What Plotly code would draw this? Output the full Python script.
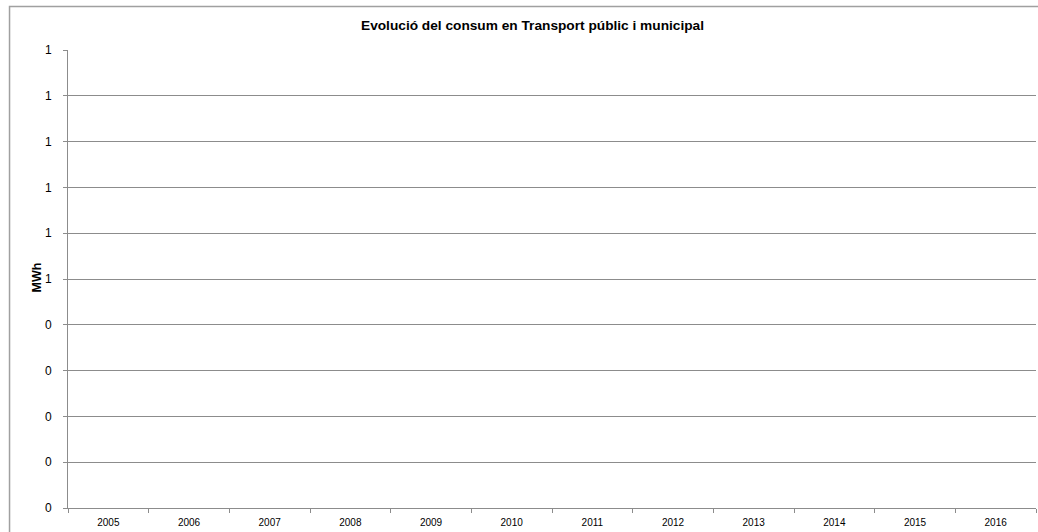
import plotly.graph_objects as go

years = ["2005", "2006", "2007", "2008", "2009", "2010",
         "2011", "2012", "2013", "2014", "2015", "2016"]
consum_mwh = [None] * 12  # no data shown in the chart
y_tick_values = [0.0, 0.1, 0.2, 0.3, 0.4, 0.5, 0.6, 0.7, 0.8, 0.9, 1.0]
y_tick_labels = ["0", "0", "0", "0", "0", "1", "1", "1", "1", "1", "1"]

title_text = "Evolució del consum en Transport públic i municipal"
y_title = "MWh"

grid_col = "#8c8c8c"
font_fam = "Liberation Sans, Arial, sans-serif"

fig = go.Figure()
fig.add_trace(go.Bar(x=years, y=consum_mwh, showlegend=False, hoverinfo="skip"))

fig.update_layout(
    width=1038, height=532,
    margin=dict(l=68, r=2, t=50, b=24),
    paper_bgcolor="white", plot_bgcolor="white",
    font=dict(family=font_fam, color="#000000"),
    showlegend=False,
)

fig.update_xaxes(
    type="category", categoryorder="array", categoryarray=years,
    range=[-0.5, 11.5],
    tickson="boundaries", ticks="outside", ticklen=4, tickcolor=grid_col,
    ticklabelstandoff=5,
    showline=True, linecolor=grid_col, linewidth=1,
    showgrid=False, zeroline=False,
    tickfont=dict(size=10, family=font_fam),
    fixedrange=True,
)
fig.update_yaxes(
    range=[0, 1],
    tickvals=y_tick_values, ticktext=y_tick_labels,
    ticks="outside", ticklen=4, tickcolor=grid_col,
    ticklabelstandoff=9,
    showline=True, linecolor=grid_col, linewidth=1,
    showgrid=True, gridcolor=grid_col, gridwidth=1,
    zeroline=False,
    tickfont=dict(size=12, family=font_fam),
    fixedrange=True,
)

# outer chart frame
fig.add_shape(type="rect", xref="paper", yref="paper",
              x0=-0.0604, x1=1.2, y0=-0.3, y1=1.095,
              line=dict(color="#a0a0a0", width=1.5), layer="below")

fig.add_annotation(text="<b>" + title_text + "</b>", xref="paper", yref="paper",
                   x=(532 - 68) / 968, y=(508 - 25.5) / 458,
                   xanchor="center", yanchor="middle",
                   showarrow=False, font=dict(size=13.7, family=font_fam))
fig.add_annotation(text="<b>" + y_title + "</b>", xref="paper", yref="paper",
                   x=(36.5 - 68) / 968, y=(508 - 278) / 458,
                   xanchor="center", yanchor="middle",
                   textangle=-90, showarrow=False, font=dict(size=12.5, family=font_fam))

fig.write_html("out.html", config={"displayModeBar": False},
               post_script="document.body.style.margin='0';document.body.style.overflow='hidden';")
